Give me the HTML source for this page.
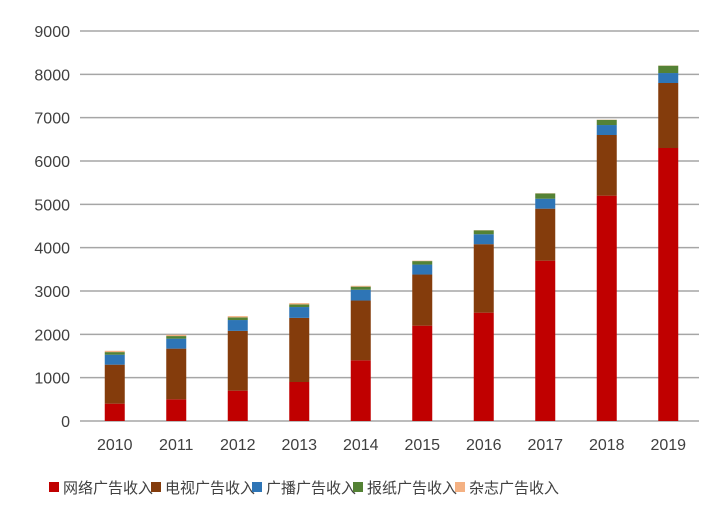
<!DOCTYPE html>
<html><head><meta charset="utf-8"><style>
body{margin:0;background:#fff;width:712px;height:505px;overflow:hidden;font-family:"Liberation Sans","Noto Sans CJK SC",sans-serif;}
</style></head><body>
<svg id="chart" width="712" height="505" xmlns="http://www.w3.org/2000/svg" style="font-family:'Liberation Sans','Noto Sans CJK SC',sans-serif"></svg>
<script>
const categories=["2010","2011","2012","2013","2014","2015","2016","2017","2018","2019"];
const internet=[400,500,700,900,1400,2200,2500,3700,5200,6300];
const tv=[900,1170,1380,1480,1380,1180,1580,1200,1400,1500];
const radio=[230,230,250,250,250,230,230,230,230,230];
const paper=[60,60,60,60,70,80,90,120,120,170];
const magazine=[30,30,30,30,20,10,5,5,5,5];
const yTicks=[0,1000,2000,3000,4000,5000,6000,7000,8000,9000];
const seriesNames=["网络广告收入","电视广告收入","广播广告收入","报纸广告收入","杂志广告收入"];
const colors=["#c00000","#843c0c","#2e75b6","#548235","#f4b183"];
const NS="http://www.w3.org/2000/svg";
const svg=document.getElementById('chart');
const x0=84,x1=699,y0=421,yTop=31,yMax=9000;
const y=v=>y0-(v/yMax)*(y0-yTop);
const step=(x1-x0)/categories.length;
const xc=i=>x0+(i+0.5)*step;
function mk(t,a){const e=document.createElementNS(NS,t);for(const k in a)e.setAttribute(k,a[k]);svg.appendChild(e);return e;}
yTicks.forEach(v=>{
 const l=mk('line',{x1:80,x2:x1,y1:y(v),y2:y(v),stroke:'#a6a6a6','stroke-width':1.5});
 
 
 const t=mk('text',{x:70,y:y(v)+6,'text-anchor':'end','font-size':16,fill:'#404040'});
 t.textContent=v;
 
 
});
const series=[internet,tv,radio,paper,magazine];
categories.forEach((c,i)=>{
 let acc=0;
 series.forEach((s,k)=>{
  const r=mk('rect',{x:xc(i)-10,width:20,y:y(acc+s[i]),height:y(acc)-y(acc+s[i]),fill:colors[k]});
  
  
  acc+=s[i];
 });
 const t=mk('text',{x:xc(i),y:450,'text-anchor':'middle','font-size':16,fill:'#404040'});
 t.textContent=c;
 
 
});
const lx=[49,151,252,353,455];
seriesNames.forEach((n,k)=>{
 const r=mk('rect',{x:lx[k],y:482,width:10,height:10,fill:colors[k]});
 
 
 const t=mk('text',{x:lx[k]+14,y:493,'font-size':15,fill:'#404040'});
 t.textContent=n;
 
 
});
</script>
</body></html>
